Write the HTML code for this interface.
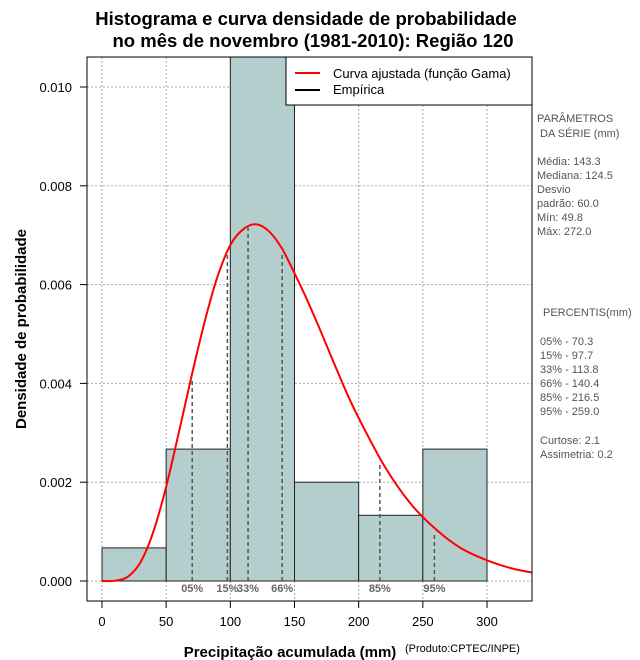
<!DOCTYPE html>
<html><head><meta charset="utf-8">
<style>
body{margin:0;background:#fff;}
svg{display:block;font-family:"Liberation Sans",sans-serif;}
</style></head>
<body>
<svg id="chart" width="640" height="660" viewBox="0 0 640 660" xmlns="http://www.w3.org/2000/svg">
<rect width="640" height="660" fill="#fff"/>
<text x="306" y="25" font-size="18.5" font-weight="bold" text-anchor="middle">Histograma e curva densidade de probabilidade</text>
<text x="313" y="47" font-size="18.5" font-weight="bold" text-anchor="middle">no mês de novembro (1981-2010): Região 120</text>
<g id="grid"></g>
<g id="bars"></g>
<g id="pcts"></g>
<g id="curve"></g>
<rect x="87" y="57" width="445" height="544" fill="none" stroke="#000"/>
<g id="xaxis"></g>
<g id="yaxis"></g>
<text transform="translate(26,329) rotate(-90)" font-size="15" font-weight="bold" text-anchor="middle">Densidade de probabilidade</text>
<text x="290" y="657" font-size="15" font-weight="bold" text-anchor="middle">Precipitação acumulada (mm)</text>
<text x="405" y="652" font-size="11">(Produto:CPTEC/INPE)</text>
<g>
<rect x="286" y="57" width="246" height="48" fill="#fff" stroke="#000"/>
<line x1="295" y1="73" x2="320" y2="73" stroke="#f00" stroke-width="2"/>
<text x="333" y="78" font-size="13">Curva ajustada (função Gama)</text>
<line x1="295" y1="90" x2="320" y2="90" stroke="#000" stroke-width="2"/>
<text x="333" y="94" font-size="13">Empírica</text>
</g>
<g font-size="11" fill="#555">
<text x="537" y="122">PARÂMETROS</text>
<text x="540" y="137">DA SÉRIE  (mm)</text>
<text x="537" y="165">Média:  143.3</text>
<text x="537" y="179">Mediana:  124.5</text>
<text x="537" y="193">Desvio</text>
<text x="537" y="207">padrão:  60.0</text>
<text x="537" y="221">Mín:  49.8</text>
<text x="537" y="235">Máx:  272.0</text>
<text x="543" y="316">PERCENTIS(mm)</text>
<text x="540" y="345">05% -  70.3</text>
<text x="540" y="359">15% -  97.7</text>
<text x="540" y="373">33% -  113.8</text>
<text x="540" y="387">66% -  140.4</text>
<text x="540" y="401">85% -  216.5</text>
<text x="540" y="415">95% -  259.0</text>
<text x="540" y="444">Curtose:  2.1</text>
<text x="540" y="458">Assimetria:  0.2</text>
</g>
</svg>
<script>
const binEdges=[0,50,100,150,200,250];
const binDensity=[0.00067,0.00267,0.0107,0.002,0.00133,0.00267];
const curveX=[0,10,20,30,40,50,60,70,80,90,100,110,120,130,140,150,160,170,180,190,200,220,240,260,280,300,320,340];
const curveY=[0,0.0000048,0.000085,0.00038,0.000996,0.00191,0.00302,0.00417,0.00525,0.00616,0.0068,0.00712,0.00722,0.00708,0.00674,0.00623,0.00568,0.00508,0.00446,0.00385,0.0033,0.00233,0.00158,0.00105,0.00066,0.00042,0.00025,0.00015];
const pctLabels=["05%","15%","33%","66%","85%","95%"];
const pctValues=[70.3,97.7,113.8,140.4,216.5,259.0];
const pctDensity=[0.00405,0.0066,0.00715,0.0066,0.0024,0.00098];
const xTicks=[0,50,100,150,200,250,300];
const yTicks=[0,0.002,0.004,0.006,0.008,0.010];
const yTickLabels=["0.000","0.002","0.004","0.006","0.008","0.010"];
const binWidth=50;
const NS="http://www.w3.org/2000/svg";
const xs=v=>102+v*(385/300);
const ys=v=>581-v*49400;
function mk(tag,attrs,parent){const e=document.createElementNS(NS,tag);for(const k in attrs)e.setAttribute(k,attrs[k]);parent.appendChild(e);return e;}
const clip=mk('clipPath',{id:'pc'},document.getElementById('chart'));
mk('rect',{x:87,y:57,width:445,height:544},clip);
const grid=document.getElementById('grid');
xTicks.forEach(t=>{const l=mk('line',{x1:xs(t),x2:xs(t),y1:57,y2:601,stroke:'#aaa','stroke-dasharray':'2,2'},grid);

});
yTicks.forEach(t=>{const l=mk('line',{x1:87,x2:532,y1:ys(t),y2:ys(t),stroke:'#aaa','stroke-dasharray':'2,2'},grid);

});
const bars=document.getElementById('bars');bars.setAttribute('clip-path','url(#pc)');
binEdges.forEach((e,i)=>{const r=mk('rect',{x:xs(e),y:ys(binDensity[i]),width:xs(e+binWidth)-xs(e),height:ys(0)-ys(binDensity[i]),fill:'#b4cecd',stroke:'#222','stroke-width':1},bars);

});
const pg=document.getElementById('pcts');
pctValues.forEach((v,i)=>{const l=mk('line',{x1:xs(v),x2:xs(v),y1:ys(0),y2:ys(pctDensity[i]),stroke:'#555','stroke-width':1.5,'stroke-dasharray':'4,3'},pg);


const t=mk('text',{x:xs(v),y:592,'font-size':11,'font-weight':'bold',fill:'#666','text-anchor':'middle'},pg);t.textContent=pctLabels[i];

});
const cg=document.getElementById('curve');cg.setAttribute('clip-path','url(#pc)');
const pts=curveX.map((x,i)=>[xs(x),ys(curveY[i])]);
let d='M'+pts[0][0].toFixed(1)+','+pts[0][1].toFixed(1);
for(let i=0;i<pts.length-1;i++){const p0=pts[Math.max(0,i-1)],p1=pts[i],p2=pts[i+1],p3=pts[Math.min(pts.length-1,i+2)];
const c1=[p1[0]+(p2[0]-p0[0])/6,p1[1]+(p2[1]-p0[1])/6],c2=[p2[0]-(p3[0]-p1[0])/6,p2[1]-(p3[1]-p1[1])/6];
d+='C'+c1.map(v=>v.toFixed(1)).join(',')+' '+c2.map(v=>v.toFixed(1)).join(',')+' '+p2.map(v=>v.toFixed(1)).join(',');}
const p=mk('path',{d:d,fill:'none',stroke:'#f00','stroke-width':2},cg);


const xa=document.getElementById('xaxis');
xTicks.forEach(t=>{mk('line',{x1:xs(t),x2:xs(t),y1:601,y2:608,stroke:'#000'},xa);
const tx=mk('text',{x:xs(t),y:626,'font-size':13,'text-anchor':'middle'},xa);tx.textContent=t;

});
const ya=document.getElementById('yaxis');
yTicks.forEach((t,i)=>{mk('line',{x1:80,x2:87,y1:ys(t),y2:ys(t),stroke:'#000'},ya);
const tx=mk('text',{x:72,y:ys(t)+5,'font-size':13,'text-anchor':'end'},ya);tx.textContent=yTickLabels[i];

});
</script>
</body></html>
